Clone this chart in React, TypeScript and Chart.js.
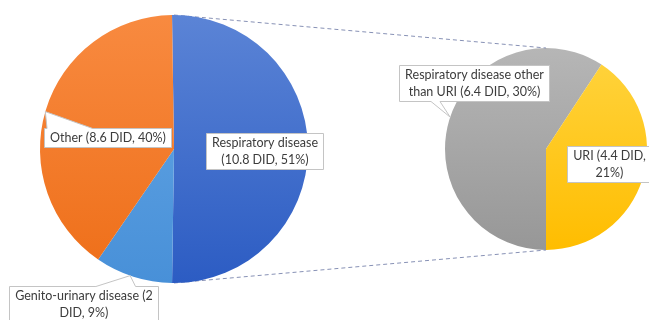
import React, { useEffect, useRef } from 'react';
import { Chart, registerables } from 'chart.js';

Chart.register(...registerables);

// ---- data ----
const mainCategories = ['Respiratory disease', 'Genito-urinary disease', 'Other'];
const mainValues = [10.8, 2, 8.6];
const mainLabelLines = [
  ['Respiratory disease', '(10.8 DID, 51%)'],
  ['Genito-urinary disease (2', 'DID, 9%)'],
  ['Other (8.6 DID, 40%)'],
];

const subCategories = ['Respiratory disease other than URI', 'URI'];
const subValues = [6.4, 4.4];
const subLabelLines = [
  ['Respiratory disease other', 'than URI (6.4 DID, 30%)'],
  ['URI (4.4 DID,', '21%)'],
];

// ---- styles ----
const mainGradients = [
  ['#5b84d6', '#2c5cc3'],
  ['#66a8e6', '#4890d8'],
  ['#f88a40', '#ee6e18'],
];
const subGradients = [
  ['#b6b6b6', '#979797'],
  ['#ffd43f', '#ffbd00'],
];

const W = 649;
const H = 320;
const FONT = '12.5px Lato, "Open Sans", sans-serif';
const TEXT = '#3c3c3c';
const BORDER = '#c4c4c4';
const LINE_H = 17;
const PADX = 5.5;
const PADY = 1;

type Pointer = { edge: 'top' | 'bottom'; from: number; to: number; angle: number };
type LabelPos = { dx: number; dy: number; pointer?: Pointer };

const mainLabelPos: LabelPos[] = [
  { dx: 0.672, dy: 0.015 },
  { dx: -0.675, dy: 1.157, pointer: { edge: 'top', from: 0.58, to: 0.846, angle: 109.1 } },
  { dx: -0.5, dy: -0.086, pointer: { edge: 'top', from: 0.02, to: 0.38, angle: -163.8 } },
];
const subLabelPos: LabelPos[] = [
  { dx: -0.713, dy: -0.658, pointer: { edge: 'bottom', from: 0.21, to: 0.27, angle: -161.6 } },
  { dx: 0.62, dy: 0.149 },
];

const gradient = (stops: string[][]) => (c: any) => {
  const chart = c.chart;
  const area = chart.chartArea;
  const s = stops[c.dataIndex % stops.length];
  if (!area) return s[0];
  const g = chart.ctx.createLinearGradient(0, area.top, 0, area.bottom);
  g.addColorStop(0, s[0]);
  g.addColorStop(1, s[1]);
  return g;
};

function drawLabel(ctx: CanvasRenderingContext2D, cx: number, cy: number, r: number, lines: string[], pos: LabelPos) {
  ctx.save();
  ctx.font = FONT;
  const tw = Math.max(...lines.map((l) => ctx.measureText(l).width));
  const w = Math.round(tw + 2 * PADX);
  const h = Math.round(lines.length * LINE_H + 2 * PADY);
  const L = Math.round(cx + pos.dx * r - w / 2) + 0.5;
  const T = Math.round(cy + pos.dy * r - h / 2) + 0.5;
  const R = L + w;
  const B = T + h;
  const p = pos.pointer;
  let tip: [number, number] | null = null;
  if (p) {
    const a = (p.angle * Math.PI) / 180;
    tip = [cx + r * Math.cos(a), cy + r * Math.sin(a)];
  }
  ctx.beginPath();
  ctx.moveTo(L, T);
  if (p && tip && p.edge === 'top') {
    ctx.lineTo(L + p.from * w, T);
    ctx.lineTo(tip[0], tip[1]);
    ctx.lineTo(L + p.to * w, T);
  }
  ctx.lineTo(R, T);
  ctx.lineTo(R, B);
  if (p && tip && p.edge === 'bottom') {
    ctx.lineTo(L + p.to * w, B);
    ctx.lineTo(tip[0], tip[1]);
    ctx.lineTo(L + p.from * w, B);
  }
  ctx.lineTo(L, B);
  ctx.closePath();
  ctx.fillStyle = '#ffffff';
  ctx.fill();
  ctx.strokeStyle = BORDER;
  ctx.lineWidth = 1;
  ctx.stroke();
  ctx.fillStyle = TEXT;
  ctx.textAlign = 'center';
  ctx.textBaseline = 'middle';
  const mx = (L + R) / 2;
  lines.forEach((l, i) => {
    ctx.fillText(l, mx, T + PADY + LINE_H * (i + 0.5));
  });
  ctx.restore();
}

const labelPlugin = (id: string, texts: string[][], positions: LabelPos[]) => ({
  id,
  afterDatasetsDraw(chart: any) {
    const meta = chart.getDatasetMeta(0);
    meta.data.forEach((arc: any, i: number) => {
      if (!texts[i]) return;
      drawLabel(chart.ctx, arc.x, arc.y, arc.outerRadius, texts[i], positions[i]);
    });
  },
});

const connectorPlugin = (getSub: () => any) => ({
  id: 'connectors',
  beforeDatasetsDraw(chart: any) {
    const sub = getSub();
    if (!sub) return;
    const a = chart.getDatasetMeta(0).data[0];
    const b = sub.getDatasetMeta(0).data[0];
    if (!a || !b) return;
    const ctx = chart.ctx;
    ctx.save();
    ctx.strokeStyle = '#8791b5';
    ctx.lineWidth = 1;
    ctx.setLineDash([4, 3]);
    ctx.beginPath();
    ctx.moveTo(a.x, a.y - a.outerRadius);
    ctx.lineTo(b.x, b.y - b.outerRadius);
    ctx.moveTo(a.x, a.y + a.outerRadius);
    ctx.lineTo(b.x, b.y + b.outerRadius);
    ctx.stroke();
    ctx.restore();
  },
});

export default function App() {
  const mainRef = useRef<HTMLCanvasElement>(null);
  const subRef = useRef<HTMLCanvasElement>(null);

  useEffect(() => {
    const sub = new Chart(subRef.current as HTMLCanvasElement, {
      type: 'pie',
      data: {
        labels: subCategories,
        datasets: [
          { data: subValues, backgroundColor: gradient(subGradients) as any, borderWidth: 0, hoverOffset: 0 },
        ],
      },
      options: {
        responsive: false,
        animation: false,
        events: [],
        rotation: 180,
        layout: { padding: { left: 445, top: 48, right: W - 647, bottom: H - 250 } },
        plugins: { legend: { display: false }, tooltip: { enabled: false } },
      },
      plugins: [labelPlugin('subLabels', subLabelLines, subLabelPos)],
    });

    const main = new Chart(mainRef.current as HTMLCanvasElement, {
      type: 'pie',
      data: {
        labels: mainCategories,
        datasets: [
          { data: mainValues, backgroundColor: gradient(mainGradients) as any, borderWidth: 0, hoverOffset: 0 },
        ],
      },
      options: {
        responsive: false,
        animation: false,
        events: [],
        rotation: -0.85,
        layout: { padding: { left: 40, top: 15, right: W - 308, bottom: H - 283 } },
        plugins: { legend: { display: false }, tooltip: { enabled: false } },
      },
      plugins: [connectorPlugin(() => sub), labelPlugin('mainLabels', mainLabelLines, mainLabelPos)],
    });

    return () => {
      main.destroy();
      sub.destroy();
    };
  }, []);

  return (
    <div style={{ position: 'absolute', left: 0, top: 0, width: W, height: H, background: '#ffffff', overflow: 'hidden' }}>
      <canvas ref={subRef} width={W} height={H} style={{ position: 'absolute', left: 0, top: 0 }} />
      <canvas ref={mainRef} width={W} height={H} style={{ position: 'absolute', left: 0, top: 0 }} />
    </div>
  );
}
